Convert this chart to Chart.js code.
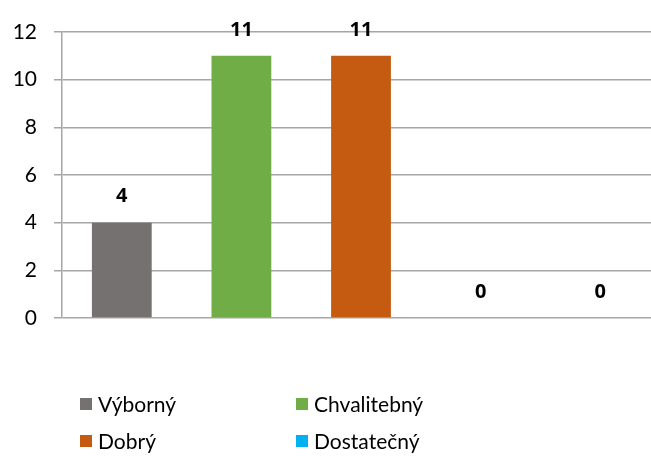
<!DOCTYPE html>
<html>
<head>
<meta charset="utf-8">
<script src="https://cdn.jsdelivr.net/npm/chart.js@4"></script>
<style>
    html, body { margin: 0; padding: 0; background: #fff; overflow: hidden; }
    #wrap { position: relative; width: 651px; height: 456px; overflow: hidden; }
    #chart { position: absolute; left: 0; top: 0; }
    #legend { position: absolute; left: 0; top: 0; width: 651px; font-family: Lato, 'Open Sans', sans-serif; font-size: 21px; color: #000; }
    .item { position: absolute; display: flex; align-items: center; white-space: nowrap; }
    .box { width: 12px; height: 12px; margin-right: 6px; }
</style>
</head>
<body>
<div id="wrap">
    <canvas id="chart" width="660" height="456"></canvas>
    <div id="legend"></div>
</div>
<script>
'use strict';
// známky a počty žáků
const GRADES = ['Výborný', 'Chvalitebný', 'Dobrý', 'Dostatečný', 'Nedostatečný'];
const COUNTS = [4, 11, 11, 0, 0];
const COLORS = ['#767171', '#70AD47', '#C55A11', '#00B0F0', '#1F4E79'];
const Y_TICKS = [0, 2, 4, 6, 8, 10, 12];

const FONT = "Lato, 'Open Sans', sans-serif";

// hodnoty nad sloupci
const valueLabels = {
    id: 'valueLabels',
    afterDatasetsDraw(chart) {
        const ctx = chart.ctx;
        const meta = chart.getDatasetMeta(0);
        ctx.save();
        ctx.font = "bold 20px 'Open Sans', sans-serif";
        ctx.fillStyle = '#000';
        ctx.textAlign = 'center';
        ctx.textBaseline = 'bottom';
        meta.data.forEach((bar, i) => {
            ctx.fillText(String(COUNTS[i]), bar.x, bar.y - 16);
        });
        ctx.restore();
    },
};

new Chart(document.getElementById('chart'), {
    type: 'bar',
    data: {
        labels: GRADES,
        datasets: [{
            data: COUNTS,
            backgroundColor: COLORS,
            barPercentage: 0.5,
            categoryPercentage: 1,
        }],
    },
    options: {
        responsive: false,
        animation: false,
        layout: { padding: { left: 10, top: 32, right: 0, bottom: 138 } },
        plugins: { legend: { display: false }, tooltip: { enabled: false } },
        scales: {
            x: {
                ticks: { display: false },
                grid: { display: false, drawTicks: false },
                border: { display: false },
            },
            y: {
                min: 0,
                max: 12,
                afterFit(scale) { scale.width = 52; },
                afterBuildTicks(scale) { scale.ticks = Y_TICKS.map(v => ({ value: v })); },
                ticks: { padding: 17, color: '#000', font: { family: FONT, size: 21 } },
                grid: { color: '#a6a6a6', lineWidth: 1.5, tickLength: 8 },
                border: { color: '#a6a6a6', width: 1.5 },
            },
        },
    },
    plugins: [valueLabels],
});

// legenda ve dvou sloupcích (páté položce už nezbývá místo)
const legend = document.getElementById('legend');
const COL_X = [80, 296];
const ROW_Y = [391, 428];
GRADES.slice(0, 4).forEach((g, i) => {
    const el = document.createElement('div');
    el.className = 'item';
    el.style.left = COL_X[i % 2] + 'px';
    el.style.top = ROW_Y[Math.floor(i / 2)] + 'px';
    el.innerHTML = '<span class="box" style="background:' + COLORS[i] + '"></span><span>' + g + '</span>';
    legend.appendChild(el);
});
</script>
</body>
</html>
